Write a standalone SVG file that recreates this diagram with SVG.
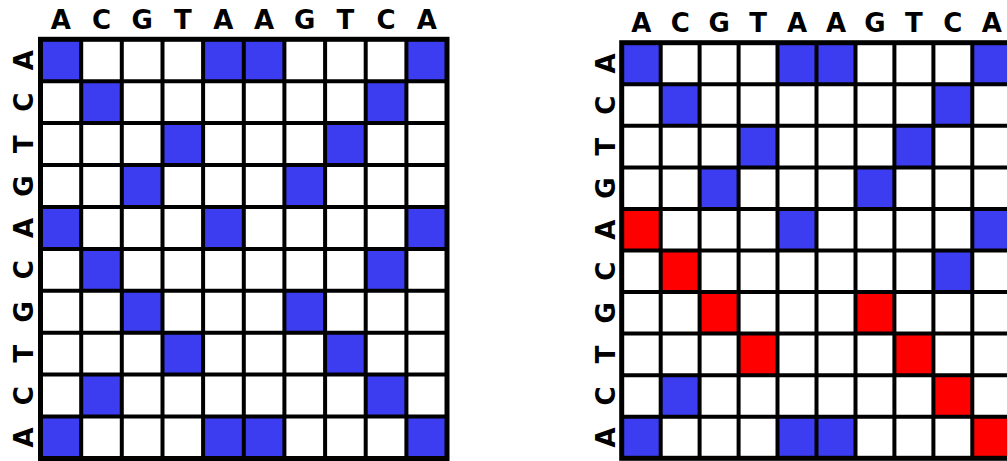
<svg xmlns="http://www.w3.org/2000/svg" width="1007" height="461" viewBox="0 0 1007 461">
<style>
.lbl{font-family:"DejaVu Sans",sans-serif;font-weight:bold;font-size:26px;fill:#000;text-anchor:middle}
.b{fill:#3c3cf0}
.r{fill:#ff0000}
.ln{stroke:#000;stroke-width:4;fill:none}
.bd{stroke:#000;stroke-width:5;fill:none}
</style>
<rect width="1007" height="461" fill="#fff"/>
<g id="left-matrix">
<g id="left-cells">
<rect class="b" x="40.5" y="39.3" width="40.7" height="41.9"/>
<rect class="b" x="203.1" y="39.3" width="40.7" height="41.9"/>
<rect class="b" x="243.8" y="39.3" width="40.7" height="41.9"/>
<rect class="b" x="406.4" y="39.3" width="40.7" height="41.9"/>
<rect class="b" x="81.2" y="81.2" width="40.7" height="41.9"/>
<rect class="b" x="365.7" y="81.2" width="40.7" height="41.9"/>
<rect class="b" x="162.5" y="123.1" width="40.7" height="41.9"/>
<rect class="b" x="325.1" y="123.1" width="40.7" height="41.9"/>
<rect class="b" x="121.8" y="165" width="40.7" height="41.9"/>
<rect class="b" x="284.4" y="165" width="40.7" height="41.9"/>
<rect class="b" x="40.5" y="207" width="40.7" height="41.9"/>
<rect class="b" x="203.1" y="207" width="40.7" height="41.9"/>
<rect class="b" x="406.4" y="207" width="40.7" height="41.9"/>
<rect class="b" x="81.2" y="248.9" width="40.7" height="41.9"/>
<rect class="b" x="365.7" y="248.9" width="40.7" height="41.9"/>
<rect class="b" x="121.8" y="290.8" width="40.7" height="41.9"/>
<rect class="b" x="284.4" y="290.8" width="40.7" height="41.9"/>
<rect class="b" x="162.5" y="332.7" width="40.7" height="41.9"/>
<rect class="b" x="325.1" y="332.7" width="40.7" height="41.9"/>
<rect class="b" x="81.2" y="374.6" width="40.7" height="41.9"/>
<rect class="b" x="365.7" y="374.6" width="40.7" height="41.9"/>
<rect class="b" x="40.5" y="416.6" width="40.7" height="41.9"/>
<rect class="b" x="203.1" y="416.6" width="40.7" height="41.9"/>
<rect class="b" x="243.8" y="416.6" width="40.7" height="41.9"/>
<rect class="b" x="406.4" y="416.6" width="40.7" height="41.9"/>
</g>
<g id="left-grid">
<path class="ln" d="M81.2 39.3V458.5M121.8 39.3V458.5M162.5 39.3V458.5M203.1 39.3V458.5M243.8 39.3V458.5M284.4 39.3V458.5M325.1 39.3V458.5M365.7 39.3V458.5M406.4 39.3V458.5"/>
<path class="ln" d="M40.5 81.2H447M40.5 123.1H447M40.5 165H447M40.5 207H447M40.5 248.9H447M40.5 290.8H447M40.5 332.7H447M40.5 374.6H447M40.5 416.6H447"/>
<rect class="bd" x="40.5" y="39.3" width="406.5" height="419.2"/>
</g>
<g id="left-top-labels">
<text class="lbl" x="60.8" y="29">A</text>
<text class="lbl" x="101.5" y="29">C</text>
<text class="lbl" x="142.1" y="29">G</text>
<text class="lbl" x="182.8" y="29">T</text>
<text class="lbl" x="223.4" y="29">A</text>
<text class="lbl" x="264.1" y="29">A</text>
<text class="lbl" x="304.7" y="29">G</text>
<text class="lbl" x="345.4" y="29">T</text>
<text class="lbl" x="386" y="29">C</text>
<text class="lbl" x="426.7" y="29">A</text>
</g>
<g id="left-side-labels">
<text class="lbl" transform="translate(33 60.2) rotate(-90)">A</text>
<text class="lbl" transform="translate(33 102.1) rotate(-90)">C</text>
<text class="lbl" transform="translate(33 144) rotate(-90)">T</text>
<text class="lbl" transform="translate(33 186) rotate(-90)">G</text>
<text class="lbl" transform="translate(33 228) rotate(-90)">A</text>
<text class="lbl" transform="translate(33 269.8) rotate(-90)">C</text>
<text class="lbl" transform="translate(33 311.8) rotate(-90)">G</text>
<text class="lbl" transform="translate(33 353.7) rotate(-90)">T</text>
<text class="lbl" transform="translate(33 395.6) rotate(-90)">C</text>
<text class="lbl" transform="translate(33 437.5) rotate(-90)">A</text>
</g>
</g>
<g id="right-matrix">
<g id="right-cells">
<rect class="b" x="621.7" y="42.7" width="39" height="41.6"/>
<rect class="b" x="777.5" y="42.7" width="39" height="41.6"/>
<rect class="b" x="816.5" y="42.7" width="39" height="41.6"/>
<rect class="b" x="972.3" y="42.7" width="39" height="41.6"/>
<rect class="b" x="660.7" y="84.3" width="39" height="41.6"/>
<rect class="b" x="933.4" y="84.3" width="39" height="41.6"/>
<rect class="b" x="738.6" y="125.8" width="39" height="41.6"/>
<rect class="b" x="894.4" y="125.8" width="39" height="41.6"/>
<rect class="b" x="699.6" y="167.4" width="39" height="41.6"/>
<rect class="b" x="855.5" y="167.4" width="39" height="41.6"/>
<rect class="r" x="621.7" y="208.9" width="39" height="41.6"/>
<rect class="b" x="777.5" y="208.9" width="39" height="41.6"/>
<rect class="b" x="972.3" y="208.9" width="39" height="41.6"/>
<rect class="r" x="660.7" y="250.5" width="39" height="41.6"/>
<rect class="b" x="933.4" y="250.5" width="39" height="41.6"/>
<rect class="r" x="699.6" y="292.1" width="39" height="41.6"/>
<rect class="r" x="855.5" y="292.1" width="39" height="41.6"/>
<rect class="r" x="738.6" y="333.6" width="39" height="41.6"/>
<rect class="r" x="894.4" y="333.6" width="39" height="41.6"/>
<rect class="b" x="660.7" y="375.2" width="39" height="41.6"/>
<rect class="r" x="933.4" y="375.2" width="39" height="41.6"/>
<rect class="b" x="621.7" y="416.7" width="39" height="41.6"/>
<rect class="b" x="777.5" y="416.7" width="39" height="41.6"/>
<rect class="b" x="816.5" y="416.7" width="39" height="41.6"/>
<rect class="r" x="972.3" y="416.7" width="39" height="41.6"/>
</g>
<g id="right-grid">
<path class="ln" d="M660.7 42.7V458.3M699.6 42.7V458.3M738.6 42.7V458.3M777.5 42.7V458.3M816.5 42.7V458.3M855.5 42.7V458.3M894.4 42.7V458.3M933.4 42.7V458.3M972.3 42.7V458.3"/>
<path class="ln" d="M621.7 84.3H1011.3M621.7 125.8H1011.3M621.7 167.4H1011.3M621.7 208.9H1011.3M621.7 250.5H1011.3M621.7 292.1H1011.3M621.7 333.6H1011.3M621.7 375.2H1011.3M621.7 416.7H1011.3"/>
<rect class="bd" x="621.7" y="42.7" width="389.6" height="415.6"/>
</g>
<g id="right-top-labels">
<text class="lbl" x="641.2" y="32">A</text>
<text class="lbl" x="680.2" y="32">C</text>
<text class="lbl" x="719.1" y="32">G</text>
<text class="lbl" x="758.1" y="32">T</text>
<text class="lbl" x="797" y="32">A</text>
<text class="lbl" x="836" y="32">A</text>
<text class="lbl" x="875" y="32">G</text>
<text class="lbl" x="913.9" y="32">T</text>
<text class="lbl" x="952.9" y="32">C</text>
<text class="lbl" x="991.8" y="32">A</text>
</g>
<g id="right-side-labels">
<text class="lbl" transform="translate(615 63.5) rotate(-90)">A</text>
<text class="lbl" transform="translate(615 105.1) rotate(-90)">C</text>
<text class="lbl" transform="translate(615 146.6) rotate(-90)">T</text>
<text class="lbl" transform="translate(615 188.2) rotate(-90)">G</text>
<text class="lbl" transform="translate(615 229.7) rotate(-90)">A</text>
<text class="lbl" transform="translate(615 271.3) rotate(-90)">C</text>
<text class="lbl" transform="translate(615 312.9) rotate(-90)">G</text>
<text class="lbl" transform="translate(615 354.4) rotate(-90)">T</text>
<text class="lbl" transform="translate(615 396) rotate(-90)">C</text>
<text class="lbl" transform="translate(615 437.5) rotate(-90)">A</text>
</g>
</g>
</svg>
